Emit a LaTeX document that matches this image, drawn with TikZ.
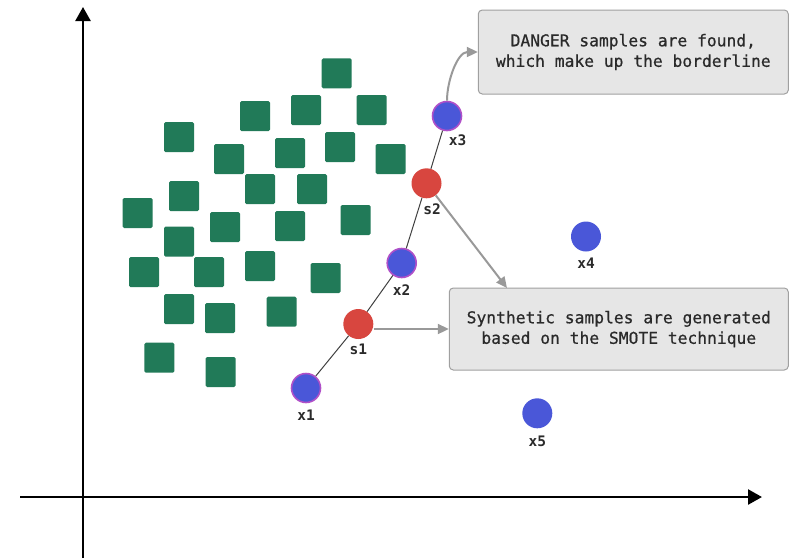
\documentclass[tikz,border=0pt]{standalone}
\usepackage{fontspec}
\setmonofont{DejaVu Sans Mono}
\newfontfamily\boxmono[FakeBold=0.6]{DejaVu Sans Mono}
\usetikzlibrary{arrows.meta}
\definecolor{sqgreen}{HTML}{217A58}
\definecolor{ptblue}{HTML}{4A57D8}
\definecolor{ptpurple}{HTML}{B050C8}
\definecolor{ptred}{HTML}{D8463F}
\definecolor{boxfill}{HTML}{E6E6E6}
\definecolor{boxline}{HTML}{A0A0A0}
\definecolor{arrgray}{HTML}{999999}
\definecolor{txtgray}{HTML}{2A2A2A}
\begin{document}
\begin{tikzpicture}[x=1pt,y=-1pt,
  sq/.style={fill=sqgreen,draw=none,rounded corners=1.5pt,minimum size=30pt,inner sep=0pt},
  minpt/.style={circle,fill=ptblue,draw=ptpurple,line width=1.6pt,minimum size=29pt,inner sep=0pt},
  plainpt/.style={circle,fill=ptblue,draw=none,minimum size=30pt,inner sep=0pt},
  synpt/.style={circle,fill=ptred,draw=none,minimum size=30pt,inner sep=0pt},
  lab/.style={font=\ttfamily\bfseries\fontsize{14.5}{16}\selectfont,text=txtgray,inner sep=0pt},
  infobox/.style={draw=boxline,fill=boxfill,line width=1pt,rounded corners=4pt,align=center,
     font=\boxmono\fontsize{16.3}{20.5}\selectfont,text=txtgray,inner sep=0pt},
  axis/.style={line width=2.5pt,-{Triangle[length=14pt,width=15pt]}},
  arr/.style={draw=arrgray,line width=2pt,-{Triangle[length=11pt,width=10pt]}},
  seg/.style={draw=black!75,line width=1pt}]
\useasboundingbox (0,0) rectangle (792,558);
% axes
\coordinate (yb) at (83,558);
\coordinate (yt) at (83,7);
\coordinate (xl) at (20,497);
\coordinate (xr) at (762,497);
\draw[axis] (yb) -- (yt);
\draw[axis] (xl) -- (xr);
% squares
\foreach \i/\x/\y in {1/336.7/73.3, 2/255/116, 3/306/110, 4/371.7/110, 5/179/137,
  6/229/159, 7/290/153, 8/340/147, 9/390.7/159, 10/260/189, 11/312/189,
  12/184/196, 13/137.7/213, 14/225/227, 15/290/226, 16/355.7/220, 17/179/241.7,
  18/144/272, 19/209/272, 20/260/266, 21/325.7/278, 22/179/309, 23/220/318,
  24/281.7/311.7, 25/159.3/357.7, 26/220.7/372}
  \node[sq] (sq\i) at (\x,\y) {};
% points
\node[minpt] (x1) at (306,388) {};
\node[synpt] (s1) at (358.3,324) {};
\node[minpt] (x2) at (401.7,263) {};
\node[synpt] (s2) at (426.5,183.3) {};
\node[minpt] (x3) at (447,116) {};
\node[plainpt] (x4) at (586,236.5) {};
\node[plainpt] (x5) at (537.3,413.3) {};
% connecting segments
\draw[seg] (x1) -- (s1);
\draw[seg] (s1) -- (x2);
\draw[seg] (x2) -- (s2);
\draw[seg] (s2) -- (x3);
% labels
\node[lab] (lx1) at (306,415) {x1};
\node[lab] (ls1) at (358.3,349.5) {s1};
\node[lab] (lx2) at (401.7,290.5) {x2};
\node[lab] (ls2) at (432,209.5) {s2};
\node[lab] (lx3) at (457.5,140.5) {x3};
\node[lab] (lx4) at (586,263.5) {x4};
\node[lab] (lx5) at (537.3,441) {x5};
% boxes
\node[infobox,minimum width=310pt,minimum height=84pt] (box1) at (633.3,52)
  {DANGER samples are found,\\which make up the borderline};
\node[infobox,minimum width=339pt,minimum height=82pt] (box2) at (618.8,329)
  {Synthetic samples are generated\\based on the SMOTE technique};
% arrows
\coordinate (t2) at (507,288);
\draw[arr] (x3.north) to[out=90,in=180,looseness=0.9] (box1.west);
\draw[arr] (s1.east |- box2.west) -- (box2.west);
\draw[arr] (s2) -- (t2);
\end{tikzpicture}
\end{document}
